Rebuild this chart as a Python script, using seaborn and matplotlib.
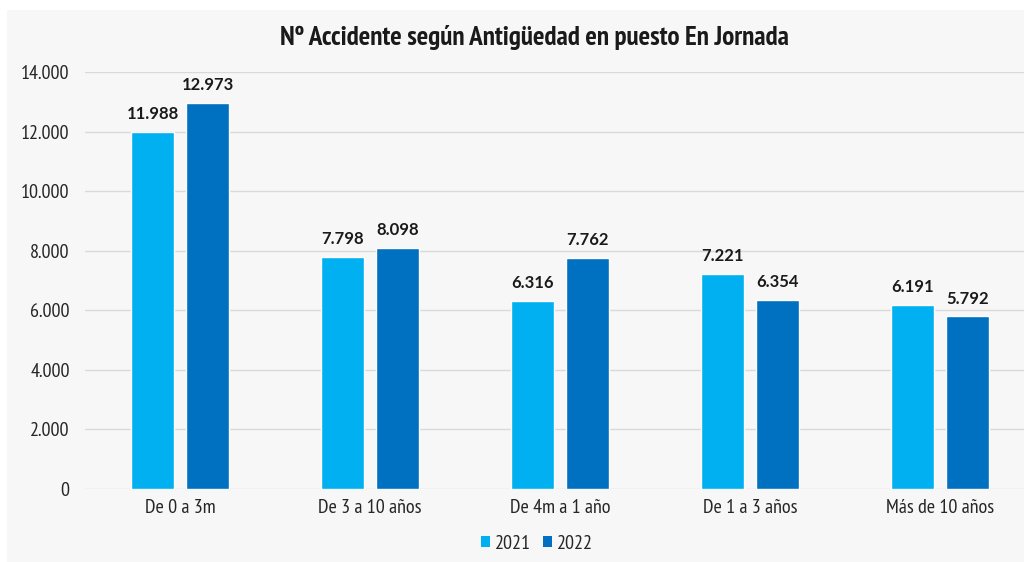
import matplotlib
matplotlib.use("Agg")
import matplotlib.pyplot as plt
from matplotlib.patches import Rectangle
import seaborn as sns
import pandas as pd

categories = ["De 0 a 3m", "De 3 a 10 años", "De 4m a 1 año", "De 1 a 3 años", "Más de 10 años"]
years = ["2021", "2022"]
values_2021 = [11988, 7798, 6316, 7221, 6191]
values_2022 = [12973, 8098, 7762, 6354, 5792]
y_ticks = [0, 2000, 4000, 6000, 8000, 10000, 12000, 14000]
title = "Nº Accidente según Antigüedad en puesto En Jornada"
colors = {"2021": "#00B0F0", "2022": "#0070C0"}

df = pd.DataFrame({
    "categoria": categories * 2,
    "anio": [years[0]] * len(categories) + [years[1]] * len(categories),
    "valor": values_2021 + values_2022,
})

sns.set_theme(style="white")
narrow = ["PT Sans Narrow", "Liberation Sans Narrow", "DejaVu Sans"]
plt.rcParams["font.family"] = narrow

W, H = 1024, 562
fig = plt.figure(figsize=(W / 100, H / 100), dpi=100, facecolor="white")
fig.patches.append(Rectangle((7 / W, 0), 1, 1 - 10 / H, transform=fig.transFigure,
                             facecolor="#f7f7f7", edgecolor="none", zorder=-10))

ax = fig.add_axes([85 / W, 1 - 489 / H, (1024 - 85) / W, (489 - 72) / H])
ax.set_facecolor("none")

sns.barplot(data=df, x="categoria", y="valor", hue="anio", palette=colors,
            width=0.579, gap=0.218, ax=ax, legend=False, errorbar=None,
            saturation=1, zorder=3)

def fmt(v):
    return f"{int(v):,}".replace(",", ".")

for cont in ax.containers:
    for bar in cont:
        h = bar.get_height()
        ax.annotate(fmt(h), (bar.get_x() + bar.get_width() / 2, h),
                    xytext=(0, 7), textcoords="offset points", ha="center", va="bottom",
                    fontsize=12, fontweight="bold", color="#1a1a1a",
                    family=["Lato", "Liberation Sans", "DejaVu Sans"])

ax.set_ylim(0, 14000)
ax.set_xlim(-0.5, -0.5 + (1024 - 85) / 190)
ax.set_yticks(y_ticks)
ax.set_yticklabels([fmt(t) for t in y_ticks], fontsize=14.5, color="#262626")
ax.tick_params(axis="x", labelsize=14.5, colors="#262626", pad=7, length=0)
ax.tick_params(axis="y", length=0, pad=11)
ax.yaxis.grid(True, color="#d9d9d9", linewidth=1, zorder=0)
ax.set_axisbelow(True)
for s in ax.spines.values():
    s.set_visible(False)
ax.set_xlabel("")
ax.set_ylabel("")

fig.text(534 / W, 1 - 37 / H, title, ha="center", va="center", fontsize=19.5,
         fontweight="bold", color="#1a1a1a")

handles = [Rectangle((0, 0), 1, 1, facecolor=colors[y], edgecolor="none") for y in years]
fig.legend(handles, years, loc="center", bbox_to_anchor=(537 / W, 1 - 544 / H), ncol=2,
           frameon=False, fontsize=14.5, handlelength=0.45, handleheight=0.45,
           handletextpad=0.25, columnspacing=0.6)

fig.savefig("out.png", dpi=100, facecolor="white")
